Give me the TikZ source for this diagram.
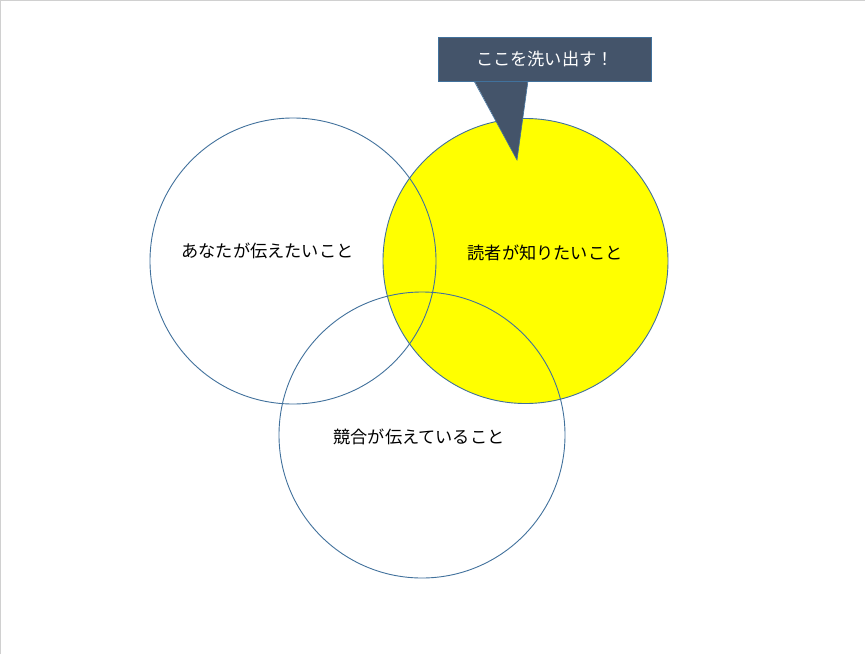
\documentclass[tikz,border=0pt]{standalone}
\usepackage{fontspec}
\newfontfamily\jp{Noto Sans CJK JP}
\definecolor{ringblue}{RGB}{65,113,156}
\definecolor{calloutfill}{RGB}{68,84,106}
\definecolor{edgegray}{RGB}{208,208,208}
\definecolor{pureyellow}{RGB}{255,255,0}
\begin{document}
\begin{tikzpicture}[x=1pt,y=-1pt,
  ring/.style={draw=ringblue,line width=0.9pt},
  lbl/.style={font=\jp\fontsize{17.2}{19}\selectfont,text=black,inner sep=0pt}]
\useasboundingbox (0,0) rectangle (865,654);
\fill[white] (0,0) rectangle (865,654);
\draw[edgegray,line width=1pt] (0.5,654) -- (0.5,0.5) -- (865,0.5);
% yellow circle first
\node[ring,fill=pureyellow,circle,minimum size=285pt,inner sep=0pt] (reader) at (525.5,261) {};
\node[ring,circle,minimum size=286pt,inner sep=0pt] (you) at (293,261) {};
\node[ring,circle,minimum size=286pt,inner sep=0pt] (rival) at (422,435) {};
\node[lbl] (youtxt) at (267.5,251) {あなたが伝えたいこと};
\node[lbl] (readertxt) at (545,253) {読者が知りたいこと};
\node[lbl] (rivaltxt) at (419,437) {競合が伝えていること};
% callout
\coordinate (tip) at (517,160);
\fill[calloutfill] (474,80) -- (tip) -- (528,80) -- cycle;
\node[fill=calloutfill,draw=ringblue,line width=0.6pt,minimum width=213pt,minimum height=44pt,inner sep=0pt,anchor=north west] (callout) at (438,37) {};
\node[lbl,text=white] (callouttxt) at (callout.center) {ここを洗い出す！};
\draw[ringblue,line width=0.6pt] (474,81) -- (tip) -- (528,81);
\end{tikzpicture}
\end{document}
